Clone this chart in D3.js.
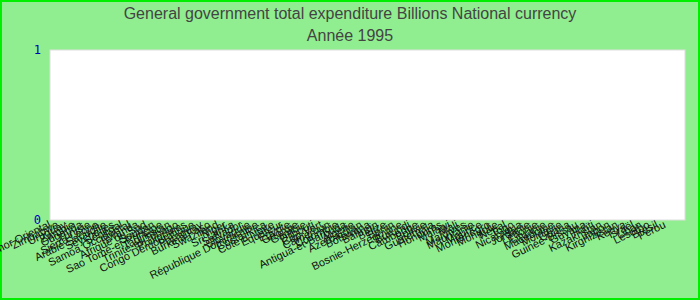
<!DOCTYPE html>
<html>
<head>
<meta charset="utf-8">
<script src="https://cdn.jsdelivr.net/npm/d3@7"></script>
<style>
  body { margin: 0; }
  svg { display: block; }
</style>
</head>
<body>
<div id="chart"></div>
<script>
// Chart data
const titleText = 'General government total expenditure Billions National currency';
const subtitleText = 'Année 1995';

const countries = [
  'Timor Oriental', 'Zimbabwe', 'Uruguay', 'Zambie', 'Ouganda', 'Tunisie',
  'Sierra Leone', 'Arabie Saoudite', 'Seychelles', 'Sénégal', 'Samoa Occidental',
  'Rwanda', 'Afrique du Sud', 'Soudan', 'Sao Tomé-et-Principe', 'Tadjikistan',
  'Trinité-et-Tobago', 'Philippines', 'Congo Démocratique', 'Paraguay',
  'Burkina Faso', 'Swaziland', 'Niger', 'Sri Lanka', 'Salvador', 'Slovaquie',
  'République Dominicaine', 'Costa Rica', "Cote d'Ivoire", 'Equateur', 'Egypte',
  'Géorgie', 'Gambie', 'Djibouti', 'Cap-Vert', 'Cameroun', 'Colombie',
  'Antigua-et-Barbuda', 'Algérie', 'Azerbaïdjan', 'Botswana', 'Bahreïn',
  'Belize', 'Bénin', 'Bosnie-Herzégovine', 'Burundi', 'Cambodge', 'Bolivie',
  'Guatemala', 'Honduras', 'Malawi', 'Mali', 'Maldives', 'Mauritanie', 'Maurice',
  'Monténégro', 'Mongolie', 'Népal', 'Togo', 'Nicaragua', 'Jordanie', 'Lettonie',
  'Lituanie', 'Macédoine', 'Moldavie', 'Ghana', 'Guinée-Bissau', 'Guyana',
  'Haïti', 'Kazakhstan', 'Japon', 'Kirghizistan', 'Kenya', 'Israël', 'Liban',
  'Lesotho', 'Brésil', 'Pérou'
];

// no values reported for 1995: every bar is zero
const values = countries.map(() => 0);

const yTicks = [0, 1];

// Chart configuration
const width = 700;
const height = 300;
const margin = { top: 50, right: 15, bottom: 80, left: 50 };

const svg = d3.select('#chart')
  .append('svg')
  .attr('width', width)
  .attr('height', height);

// background with green frame
svg.append('rect')
  .attr('x', 1)
  .attr('y', 1)
  .attr('width', width - 2)
  .attr('height', height - 2)
  .attr('fill', '#90ee90')
  .attr('stroke', '#00ee00')
  .attr('stroke-width', 2);

// plot area
svg.append('rect')
  .attr('x', margin.left)
  .attr('y', margin.top)
  .attr('width', width - margin.left - margin.right)
  .attr('height', height - margin.top - margin.bottom)
  .attr('fill', 'white')
  .attr('stroke', '#dddddd')
  .attr('stroke-width', 1);

// Scales (category labels sit a little left of the plot's full width)
const xScale = d3.scaleBand()
  .domain(countries)
  .range([48, 672])
  .padding(0.1);

const yScale = d3.scaleLinear()
  .domain([0, 1])
  .range([height - margin.bottom, margin.top]);

// Bars
svg.selectAll('.bar')
  .data(countries)
  .enter()
  .append('rect')
  .attr('class', 'bar')
  .attr('x', d => xScale(d))
  .attr('width', xScale.bandwidth())
  .attr('y', (d, i) => yScale(values[i]))
  .attr('height', (d, i) => yScale(0) - yScale(values[i]))
  .attr('fill', '#4682b4');

// Y axis
const yAxis = svg.append('g')
  .attr('transform', `translate(${margin.left}, 0)`)
  .call(d3.axisLeft(yScale).tickValues(yTicks).tickSize(0).tickPadding(9).tickFormat(d3.format('d')));

yAxis.select('.domain').remove();
yAxis.selectAll('text')
  .attr('fill', '#0000bb')
  .style('font-family', '"DejaVu Sans Mono", monospace')
  .style('font-size', '12px');

// X axis
const xAxis = svg.append('g')
  .attr('transform', `translate(0, ${height - margin.bottom})`)
  .call(d3.axisBottom(xScale).tickSize(0));

xAxis.select('.domain').remove();
xAxis.selectAll('text')
  .attr('x', -4)
  .attr('y', 2)
  .attr('dy', '0.35em')
  .attr('text-anchor', 'end')
  .attr('transform', 'rotate(-26)')
  .attr('fill', '#111')
  .style('font-family', '"Liberation Sans", Arial, sans-serif')
  .style('font-size', '11px');

// Title and subtitle
svg.append('text')
  .attr('x', width / 2)
  .attr('y', 19)
  .attr('text-anchor', 'middle')
  .attr('fill', '#444')
  .style('font-family', '"Liberation Sans", Arial, sans-serif')
  .style('font-size', '16px')
  .text(titleText);

svg.append('text')
  .attr('x', width / 2)
  .attr('y', 41)
  .attr('text-anchor', 'middle')
  .attr('fill', '#444')
  .style('font-family', '"Liberation Sans", Arial, sans-serif')
  .style('font-size', '16px')
  .text(subtitleText);
</script>
</body>
</html>
